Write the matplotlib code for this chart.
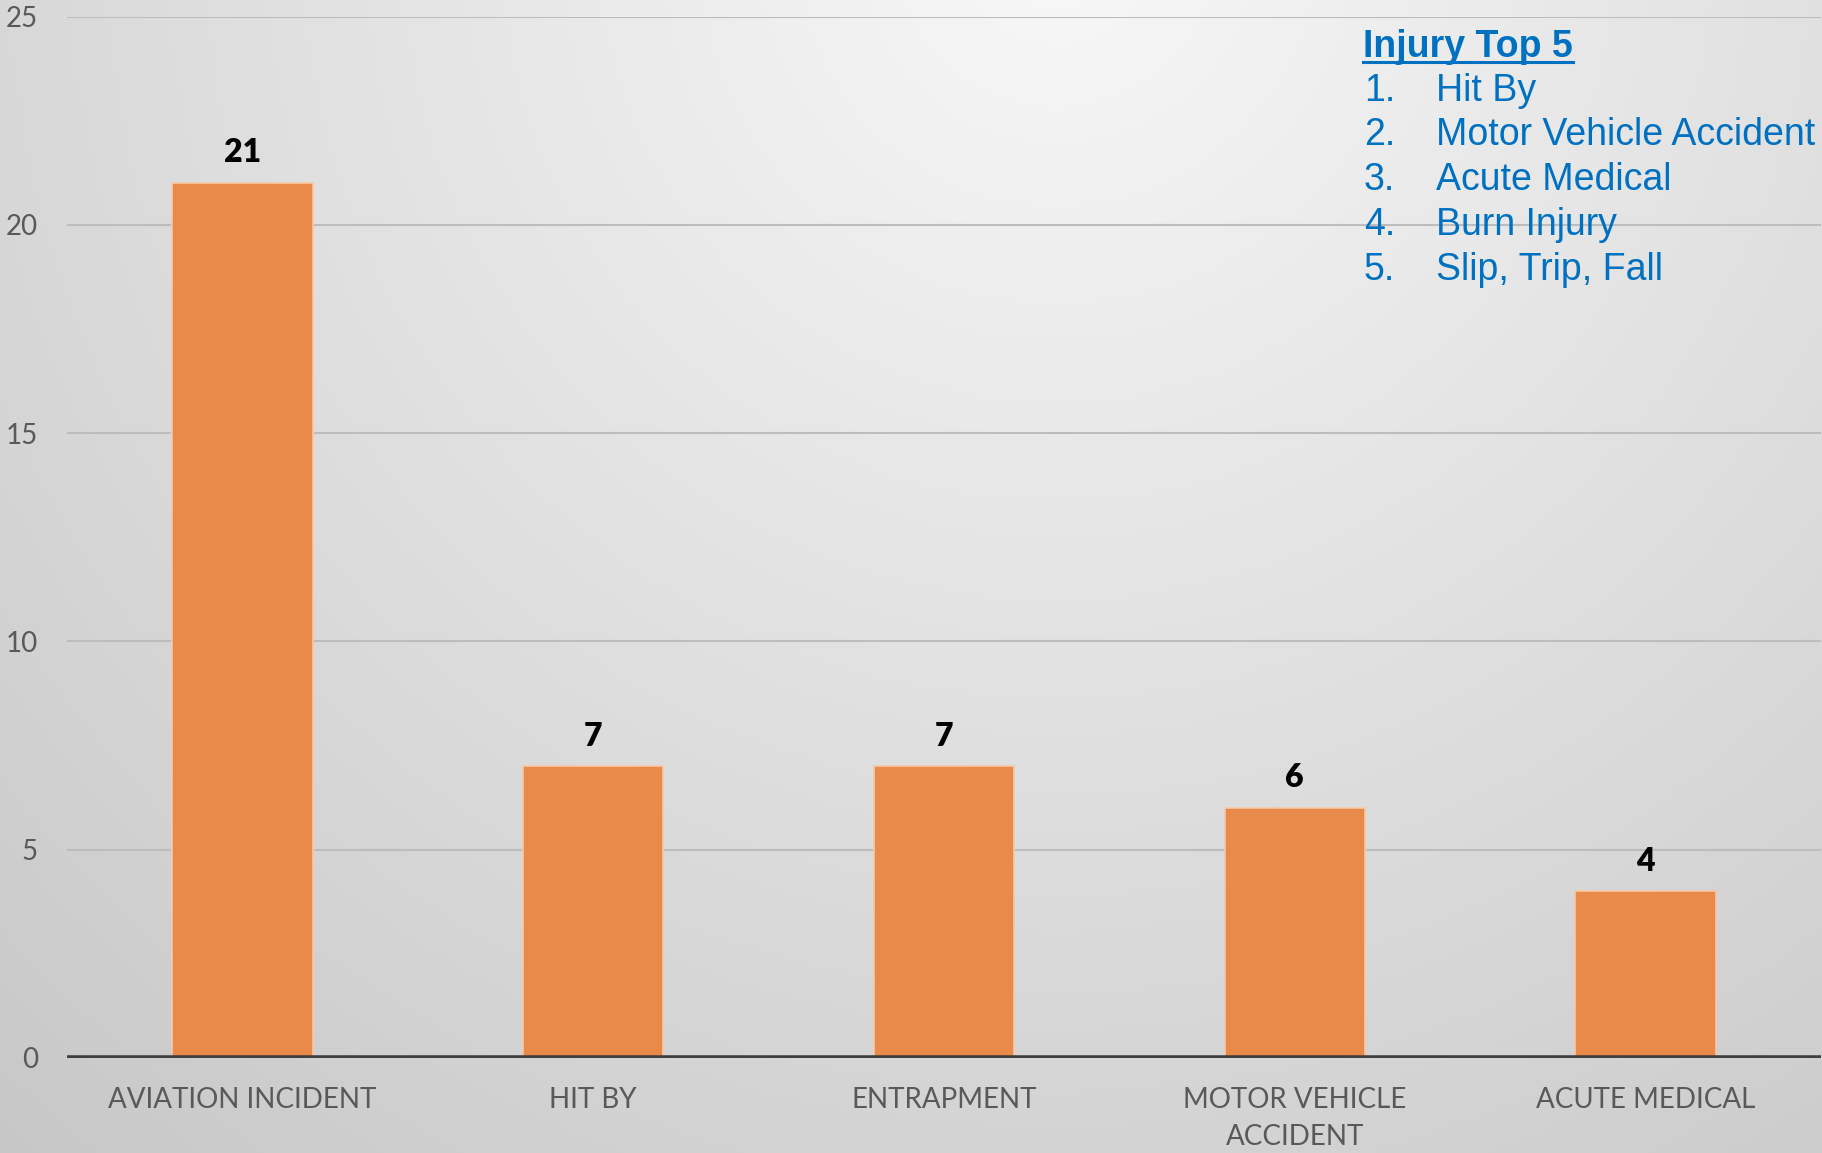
import numpy as np
import matplotlib
matplotlib.use("Agg")
import matplotlib.pyplot as plt
from matplotlib.lines import Line2D

# data
categories = ["AVIATION INCIDENT", "HIT BY", "ENTRAPMENT", "MOTOR VEHICLE\nACCIDENT", "ACUTE MEDICAL"]
counts = [21, 7, 7, 6, 4]
yticks = [0, 5, 10, 15, 20, 25]

note_title = "Injury Top 5"
note_items = ["Hit By", "Motor Vehicle Accident", "Acute Medical", "Burn Injury", "Slip, Trip, Fall"]

W, H = 1822, 1153
fig = plt.figure(figsize=(W / 100, H / 100), dpi=100)

# grey radial-ish background
bg = fig.add_axes([0, 0, 1, 1], zorder=-5)
gx, gy = np.meshgrid(np.linspace(0, 1, 400), np.linspace(0, 1, 260))
d = np.sqrt(((gx - 0.58) * W / H) ** 2 + (gy - 1.05) ** 2)
shade = np.clip(248 - 35 * d, 196, 250) / 255.0
bg.imshow(np.dstack([shade, shade, shade]), origin="lower", extent=[0, 1, 0, 1], aspect="auto")
bg.axis("off")

ax = fig.add_axes([67 / W, (H - 1058) / H, (1821 - 67) / W, (1058 - 16.7) / H])
ax.set_facecolor("none")

x = np.arange(len(categories))
bars = ax.bar(x, counts, width=0.4, color="#E98A4A", edgecolor="#F6C9A6", linewidth=1.2, zorder=3)

for b, v in zip(bars, counts):
    ax.annotate(str(v), (b.get_x() + b.get_width() / 2, v), xytext=(0, 15),
                textcoords="offset points", ha="center", va="baseline",
                fontsize=23, fontweight="heavy", family="Lato", color="black")

ax.set_xlim(-0.5, len(categories) - 0.5)
ax.set_ylim(0, 25)
ax.set_yticks(yticks)
ax.set_xticks(x, categories)
ax.grid(axis="y", color="#bdbdbd", linewidth=1.5, zorder=0)
ax.axhline(0, color="#3f3f3f", linewidth=4, zorder=4)
for s in ax.spines.values():
    s.set_visible(False)
ax.tick_params(axis="both", length=0, labelcolor="#595959", labelsize=20)
ax.tick_params(axis="y", pad=21)
ax.tick_params(axis="x", pad=21)
for lab in ax.get_xticklabels() + ax.get_yticklabels():
    lab.set_family("Lato")
    lab.set_linespacing(1.5)

# blue note in the top-right corner
blue = "#0070C0"
title = fig.text(1363 / W, 1 - 56.7 / H, note_title, fontsize=27, fontweight="bold",
                 family="Liberation Sans", color=blue, ha="left", va="baseline")
for i, item in enumerate(note_items):
    yb = 1 - (100.7 + 44.7 * i) / H
    fig.text(1364 / W, yb, f"{i + 1}.", fontsize=27, family="Liberation Sans",
             color=blue, ha="left", va="baseline")
    fig.text(1436 / W, yb, item, fontsize=27, family="Liberation Sans",
             color=blue, ha="left", va="baseline")

fig.canvas.draw()
ext = title.get_window_extent()
uy = 1 - 61.7 / H
fig.add_artist(Line2D([ext.x0 / W, ext.x1 / W], [uy, uy], transform=fig.transFigure,
                      color=blue, linewidth=2.2))

fig.savefig("out.png", dpi=100)
